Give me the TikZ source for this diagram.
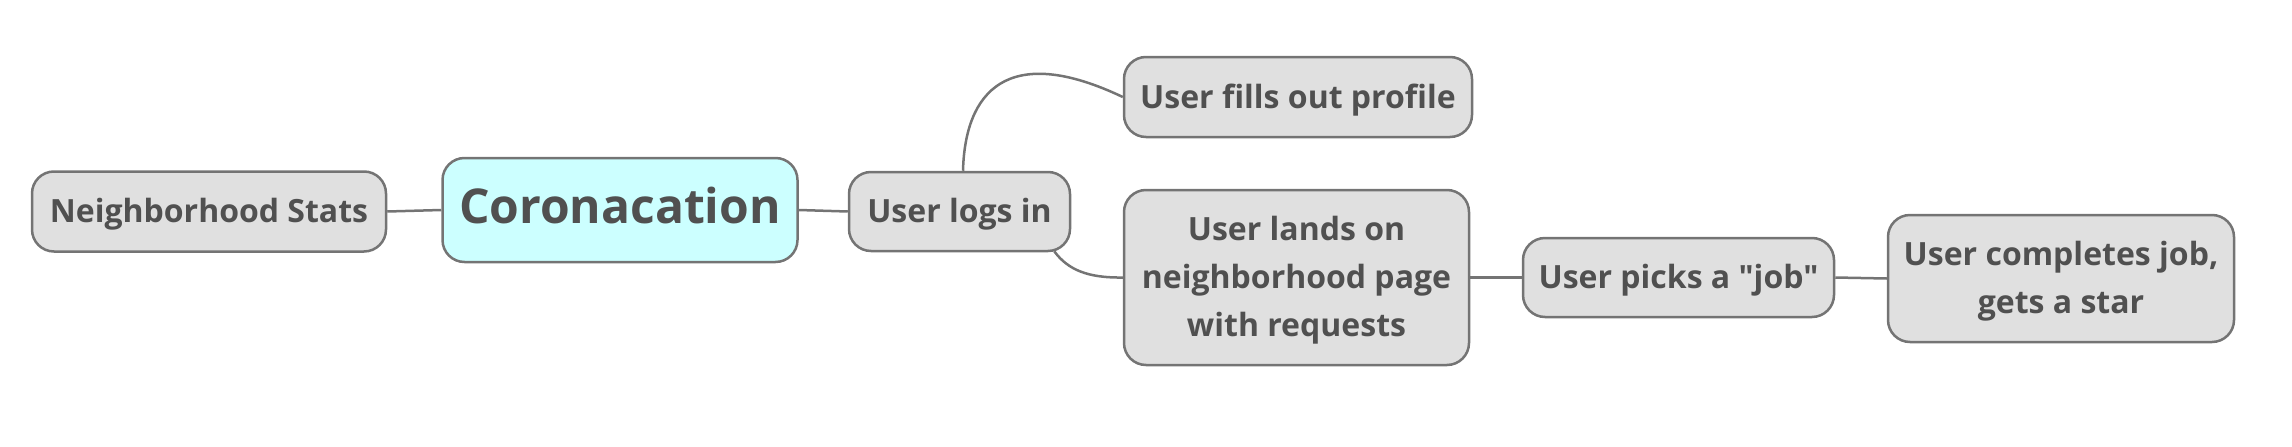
\documentclass[tikz,border=0pt]{standalone}
\usepackage{fontspec}
\newfontfamily\osans{Open Sans}
\definecolor{boxfill}{HTML}{E0E0E0}
\definecolor{corefill}{HTML}{CCFFFF}
\definecolor{edge}{HTML}{747474}
\definecolor{txt}{HTML}{505050}
\begin{document}
\begin{tikzpicture}[x=1pt,y=-1pt,
  topic/.style={draw=edge, line width=2.5pt, fill=boxfill, rounded corners=22pt,
    text=txt, align=center, inner sep=0pt,
    font=\osans\fontsize{32}{48}\selectfont\bfseries},
  oneline/.style={text height=22.5pt, text depth=0pt},
  multiline/.style={text depth=2pt},
  coretopic/.style={topic, fill=corefill, text height=26pt, text depth=0pt,
    font=\osans\fontsize{48}{56}\selectfont\bfseries},
  link/.style={draw=edge, line width=2.5pt}]
\useasboundingbox (0,0) rectangle (2292,447);
\node[coretopic, minimum width=355pt, minimum height=104pt] (core) at (620,210) {Coronacation};
\node[topic, oneline, minimum width=354pt, minimum height=80pt] (ns) at (209,211.5) {Neighborhood Stats};
\node[topic, oneline, minimum width=221pt, minimum height=79pt] (login) at (959.5,211.5) {User logs in};
\node[topic, oneline, minimum width=348pt, minimum height=80pt] (profile) at (1298,97) {User fills out profile};
\node[topic, multiline, minimum width=345pt, minimum height=175pt] (lands) at (1296.5,277.5) {User lands on\\neighborhood page\\with requests};
\node[topic, oneline, minimum width=311pt, minimum height=79pt] (picks) at (1678.5,277.5) {User picks a "job"};
\node[topic, multiline, minimum width=346pt, minimum height=127pt] (done) at (2061,278.5) {User completes job,\\gets a star};
\coordinate (upstart) at ([xshift=3.5pt]login.north);
\coordinate (downstart) at ([xshift=-17pt,yshift=1pt]login.south east);
\draw[link] (ns.east) -- (core.west);
\draw[link] (core.east) -- (login.west);
\draw[link] (upstart) .. controls (965,92) and (1007,42) .. (profile.west);
\draw[link] (downstart) .. controls (1068,270) and (1088,278) .. (lands.west);
\draw[link] (lands.east) -- (picks.west);
\draw[link] (picks.east) -- (done.west);
\end{tikzpicture}
\end{document}
